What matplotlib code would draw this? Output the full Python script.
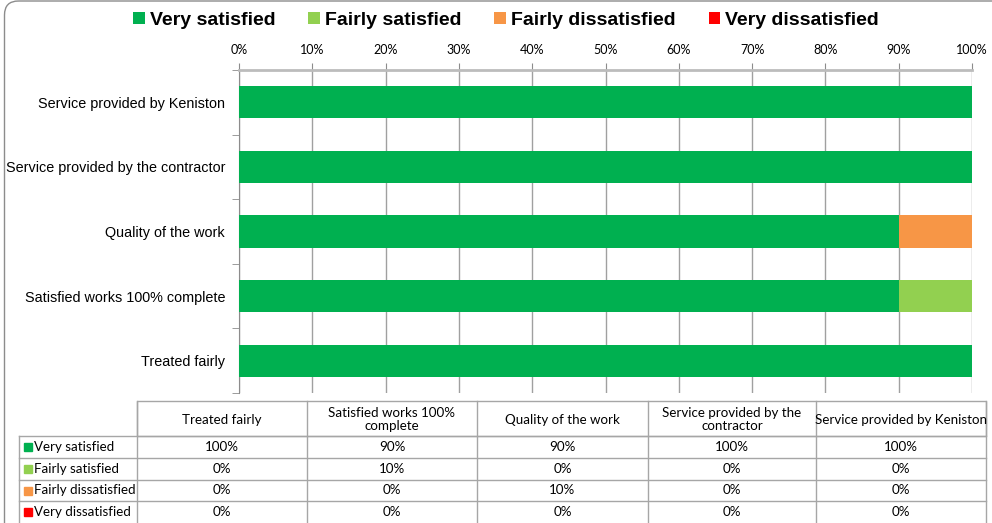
import matplotlib
matplotlib.use('agg')
import matplotlib.pyplot as plt
from matplotlib.patches import FancyBboxPatch, Rectangle
import numpy as np

categories = ["Treated fairly", "Satisfied works 100% complete", "Quality of the work",
              "Service provided by the contractor", "Service provided by Keniston"]
header_labels = ["Treated fairly", "Satisfied works 100%\ncomplete", "Quality of the work",
                 "Service provided by the\ncontractor", "Service provided by Keniston"]
series = ["Very satisfied", "Fairly satisfied", "Fairly dissatisfied", "Very dissatisfied"]
colors = ["#00B050", "#92D050", "#F79646", "#FF0000"]
very_sat = [100, 90, 90, 100, 100]
fairly_sat = [0, 10, 0, 0, 0]
fairly_dis = [0, 0, 10, 0, 0]
very_dis = [0, 0, 0, 0, 0]
values = [very_sat, fairly_sat, fairly_dis, very_dis]

W, H = 992, 523
fig = plt.figure(figsize=(W / 100, H / 100), dpi=100)

# chart border (rounded corner top-left, rest cropped)
bg = fig.add_axes([0, 0, 1, 1])
bg.set_xlim(0, W)
bg.set_ylim(H, 0)
bg.axis('off')
bg.add_patch(FancyBboxPatch((4.5, 1), W + 40, H + 40, boxstyle="round,pad=0,rounding_size=14",
                            fill=False, edgecolor="#8c8c8c", lw=1.0))

ax = fig.add_axes([239 / W, 1 - 393 / H, (972 - 239) / W, (393 - 70) / H])
y = np.arange(len(categories))
left = np.zeros(len(categories))
for name, vals, c in zip(series, values, colors):
    ax.barh(y, vals, left=left, height=0.5, color=c, label=name, zorder=3)
    left += np.array(vals)

ax.set_xlim(0, 100)
ax.set_ylim(-0.5, len(categories) - 0.5)
ax.xaxis.tick_top()
ax.set_xticks(np.arange(0, 101, 10))
ax.set_xticklabels([f"{v}%" for v in range(0, 101, 10)], fontfamily="Lato", fontsize=9)
ax.tick_params(axis='x', length=5, color="#8c8c8c", pad=5)
ax.set_yticks(y)
ax.set_yticklabels(categories, fontfamily="Liberation Sans", fontsize=10.4)
ax.set_yticks(np.arange(-0.5, len(categories), 1), minor=True)
ax.tick_params(axis='y', which='major', length=0, pad=10)
ax.tick_params(axis='y', which='minor', length=5, color="#8c8c8c")
ax.grid(axis='x', color="#a0a0a0", lw=1.0, zorder=0)
for s in ['right', 'bottom']:
    ax.spines[s].set_visible(False)
ax.spines['top'].set_color("#bcbcbc")
ax.spines['top'].set_linewidth(2)
ax.spines['left'].set_color("#8c8c8c")

# legend
handles, labels = ax.get_legend_handles_labels()
fig.legend(handles, labels, loc='upper center', bbox_to_anchor=(0.51, 1.011), ncol=4,
           frameon=False, prop={'family': 'Liberation Sans', 'weight': 'bold', 'size': 14},
           handlelength=0.6, handleheight=0.6, handletextpad=0.25, columnspacing=1.7)

# data table
col_x = [137, 307, 477, 648, 816, 986]
header_top, header_bot = 401, 436
row_y = [436, 458, 480, 501, 523]
label_left = 19
lc = "#a6a6a6"
fs = 9.6
bg.add_patch(Rectangle((col_x[0], header_top), col_x[-1] - col_x[0], header_bot - header_top,
                       fill=False, edgecolor=lc, lw=1))
for x in col_x:
    bg.plot([x, x], [header_top, H], color=lc, lw=1)
bg.plot([label_left, label_left], [row_y[0], H], color=lc, lw=1)
for yy in row_y[:-1]:
    bg.plot([label_left, col_x[-1]], [yy, yy], color=lc, lw=1)
for i, h in enumerate(header_labels):
    bg.text((col_x[i] + col_x[i + 1]) / 2, (header_top + header_bot) / 2 + 1, h,
            ha='center', va='center', fontfamily='Lato', fontsize=fs, linespacing=1.05)
for r, (name, vals, c) in enumerate(zip(series, values, colors)):
    yc = (row_y[r] + row_y[r + 1]) / 2
    bg.add_patch(Rectangle((label_left + 5, yc - 4), 8, 8, color=c))
    bg.text(label_left + 15, yc, name, ha='left', va='center', fontfamily='Lato', fontsize=fs)
    for i, v in enumerate(vals):
        bg.text((col_x[i] + col_x[i + 1]) / 2, yc, f"{v}%", ha='center', va='center',
                fontfamily='Lato', fontsize=fs)

fig.savefig("out.png", dpi=100)
